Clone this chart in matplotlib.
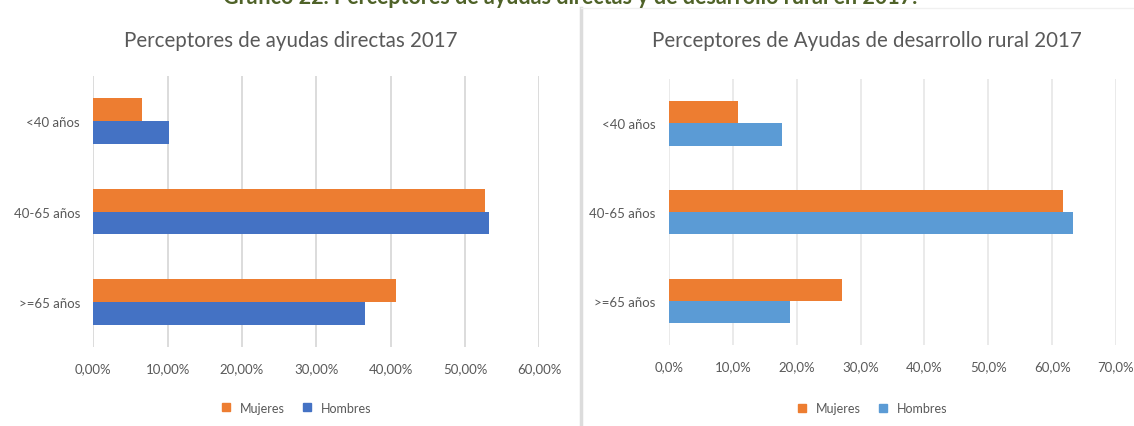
import matplotlib.pyplot as plt
from matplotlib.ticker import FuncFormatter
from matplotlib.lines import Line2D

plt.rcParams['font.family'] = ['Lato', 'DejaVu Sans']

# data
grupos = ["<40 años", "40-65 años", ">=65 años"]
directas_mujeres = [6.6, 52.7, 40.7]
directas_hombres = [10.2, 53.2, 36.6]
rural_mujeres = [10.8, 61.7, 27.1]
rural_hombres = [17.7, 63.2, 18.9]

titulo_general = "Gráfico 22. Perceptores de ayudas directas y de desarrollo rural en 2017."
titulo_izq = "Perceptores de ayudas directas 2017"
titulo_der = "Perceptores de Ayudas de desarrollo rural 2017"

NARANJA = "#ED7D31"
AZUL_OSC = "#4472C4"
AZUL_CLARO = "#5B9BD5"
GRIS_TXT = "#595959"

W, H = 1134, 427


def dibujar(ax, mujeres, hombres, color_h, xmax, decimales, leyenda_y, gris):
    y = range(len(grupos))
    h = 0.25
    ax.barh([i - h / 2 for i in y], [v / 100 for v in mujeres], height=h,
            color=NARANJA, label="Mujeres", zorder=3)
    ax.barh([i + h / 2 for i in y], [v / 100 for v in hombres], height=h,
            color=color_h, label="Hombres", zorder=3)
    ax.set_ylim(len(grupos) - 0.5, -0.5)
    ax.set_xlim(0, xmax)
    ax.set_xticks([k / 10 for k in range(int(round(xmax * 10)) + 1)])
    fmt = "{:.%df}%%" % decimales
    ax.xaxis.set_major_formatter(FuncFormatter(
        lambda v, p: fmt.format(v * 100).replace(".", ",")))
    ax.set_yticks(list(y))
    ax.set_yticklabels(grupos)
    ax.grid(axis="x", color=gris, linewidth=1.3, zorder=0)
    for s in ax.spines.values():
        s.set_visible(False)
    ax.tick_params(axis="both", length=0, colors=GRIS_TXT, labelsize=9.5)
    ax.tick_params(axis="x", pad=10.5)
    ax.tick_params(axis="y", pad=9.5)
    handles = [Line2D([], [], marker="s", linestyle="none", markersize=6,
                      color=NARANJA),
               Line2D([], [], marker="s", linestyle="none", markersize=6,
                      color=color_h)]
    ax.legend(handles, ["Mujeres", "Hombres"], loc="center",
              bbox_to_anchor=(0.447, leyenda_y), ncol=2, frameon=False,
              fontsize=9, labelcolor=GRIS_TXT, handletextpad=0.1,
              columnspacing=0.8)


fig = plt.figure(figsize=(W / 100, H / 100), dpi=100)
ax1 = fig.add_axes([93.3 / W, 1 - 348.3 / H, 446 / W, 271.6 / H])
ax2 = fig.add_axes([669 / W, 1 - 346.4 / H, 447 / W, 266.4 / H])

dibujar(ax1, directas_mujeres, directas_hombres, AZUL_OSC, 0.6, 2, -0.223, "#D9D9D9")
dibujar(ax2, rural_mujeres, rural_hombres, AZUL_CLARO, 0.7, 1, -0.235, "#E8E8E8")

fig.text(291 / W, 1 - 41 / H, titulo_izq, ha="center", va="center",
         color=GRIS_TXT, fontsize=14.8)
fig.text(866.5 / W, 1 - 41 / H, titulo_der, ha="center", va="center",
         color=GRIS_TXT, fontsize=14.8)

# separator and cut-off heading
fig.add_artist(Line2D([580.5 / W, 580.5 / W], [0, 0.98], color="#DCDCDC",
                      linewidth=2.5, transform=fig.transFigure))
fig.add_artist(Line2D([580.5 / W, 1.0], [0.98, 0.98], color="#F0F0F0",
                      linewidth=1.0, transform=fig.transFigure))
fig.text(570 / W, 1.0 + 3 / H, titulo_general, ha="center", va="center",
         color="#4F6228", fontsize=15.5, fontweight="bold")

fig.savefig("out.png", dpi=100, facecolor="white")
